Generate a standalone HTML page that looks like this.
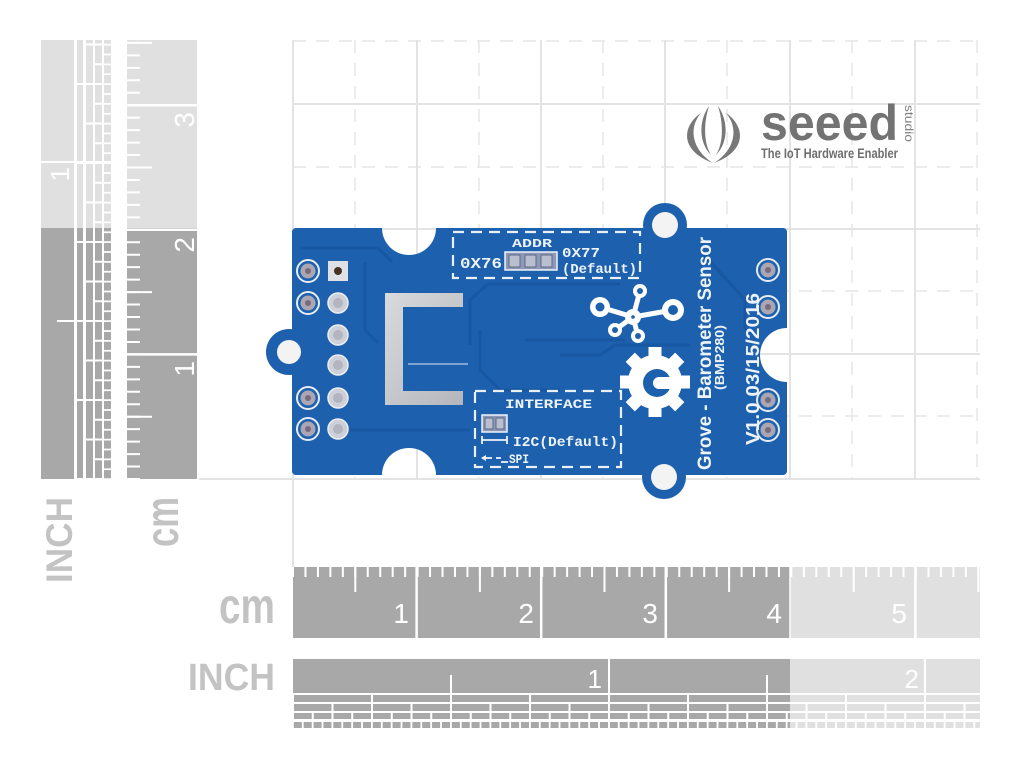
<!DOCTYPE html>
<html><head><meta charset="utf-8">
<style>html,body{margin:0;padding:0;background:#fff;}svg{display:block}</style>
</head>
<body>
<svg width="1024" height="771" viewBox="0 0 1024 771" xmlns="http://www.w3.org/2000/svg">
<defs>
  <mask id="bm">
    <rect x="0" y="0" width="1024" height="771" fill="#fff"/>
    <circle cx="409" cy="228" r="27" fill="#000"/>
    <circle cx="409" cy="475" r="27" fill="#000"/>
    <circle cx="787" cy="355" r="27" fill="#000"/>
  </mask>
  <linearGradient id="silver" x1="0" y1="0" x2="1" y2="1">
    <stop offset="0" stop-color="#d9dadd"/>
    <stop offset="1" stop-color="#b3b6bc"/>
  </linearGradient>
</defs>

<!-- ===== GRID ===== -->
<g stroke="#e3e3e3" stroke-width="2" fill="none">
  <line x1="293" y1="40" x2="293" y2="567"/>
  <line x1="417" y1="40" x2="417" y2="479"/>
  <line x1="541" y1="40" x2="541" y2="479"/>
  <line x1="665" y1="40" x2="665" y2="479"/>
  <line x1="790" y1="40" x2="790" y2="479"/>
  <line x1="915" y1="40" x2="915" y2="479"/>
  <line x1="293" y1="104" x2="980" y2="104"/>
  <line x1="293" y1="229" x2="980" y2="229"/>
  <line x1="293" y1="354" x2="980" y2="354"/>
  <line x1="199" y1="479" x2="980" y2="479"/>
</g>
<g stroke="#e6e6e6" stroke-width="1.5" stroke-dasharray="13 10" fill="none">
  <line x1="355" y1="40" x2="355" y2="479"/>
  <line x1="479" y1="40" x2="479" y2="479"/>
  <line x1="603" y1="40" x2="603" y2="479"/>
  <line x1="727" y1="40" x2="727" y2="479"/>
  <line x1="852" y1="40" x2="852" y2="479"/>
  <line x1="977" y1="40" x2="977" y2="479"/>
  <line x1="293" y1="41" x2="980" y2="41"/>
  <line x1="293" y1="167" x2="980" y2="167"/>
  <line x1="293" y1="291" x2="980" y2="291"/>
  <line x1="293" y1="416" x2="980" y2="416"/>
</g>

<!-- ===== VERTICAL INCH RULER ===== -->
<g>
  <rect x="41" y="40" width="33" height="188" fill="#e0e0e0"/>
  <rect x="41" y="228" width="33" height="251" fill="#a8a8a8"/>
  <rect x="77" y="40" width="6" height="188" fill="#e0e0e0"/>
  <rect x="77" y="228" width="6" height="251" fill="#a8a8a8"/>
  <rect x="86" y="40" width="7" height="188" fill="#e0e0e0"/>
  <rect x="86" y="228" width="7" height="251" fill="#a8a8a8"/>
  <rect x="95" y="40" width="7" height="188" fill="#e0e0e0"/>
  <rect x="95" y="228" width="7" height="251" fill="#a8a8a8"/>
  <rect x="104" y="40" width="7" height="188" fill="#e0e0e0"/>
  <rect x="104" y="228" width="7" height="251" fill="#a8a8a8"/>
  <g stroke="#fff" fill="none">
    <line x1="80" y1="480" x2="80" y2="40" stroke-width="7" stroke-dasharray="2 77"/>
    <line x1="89.5" y1="480" x2="89.5" y2="40" stroke-width="8" stroke-dasharray="2 37.5"/>
    <line x1="98.5" y1="480" x2="98.5" y2="40" stroke-width="8" stroke-dasharray="2 17.75"/>
    <line x1="107.5" y1="480" x2="107.5" y2="40" stroke-width="8" stroke-dasharray="1.8 8.075"/>
    <line x1="41" y1="162" x2="112" y2="162" stroke-width="2"/>
    <line x1="57" y1="321" x2="75" y2="321" stroke-width="2"/>
  </g>
  <text transform="translate(69,167) rotate(-90)" text-anchor="end" font-family="Liberation Sans, sans-serif" font-size="26" fill="#fff">1</text>
</g>

<!-- ===== VERTICAL CM RULER ===== -->
<g>
  <rect x="127" y="40" width="70" height="188" fill="#e0e0e0"/>
  <rect x="127" y="228" width="70" height="251" fill="#a8a8a8"/>
  <g stroke="#fff" fill="none">
    <line x1="133.5" y1="480" x2="133.5" y2="40" stroke-width="13" stroke-dasharray="2 10.46"/>
    <line x1="127" y1="416.7" x2="152" y2="416.7" stroke-width="2"/>
    <line x1="127" y1="292.1" x2="152" y2="292.1" stroke-width="2"/>
    <line x1="127" y1="167.5" x2="152" y2="167.5" stroke-width="2"/>
    <line x1="127" y1="42.9" x2="152" y2="42.9" stroke-width="2"/>
    <line x1="127" y1="354.4" x2="197" y2="354.4" stroke-width="2.5"/>
    <line x1="127" y1="229.8" x2="197" y2="229.8" stroke-width="2.5"/>
    <line x1="127" y1="105.2" x2="197" y2="105.2" stroke-width="2.5"/>
  </g>
  <g font-family="Liberation Sans, sans-serif" font-size="28" fill="#fff" text-anchor="end">
    <text transform="translate(194,361) rotate(-90)">1</text>
    <text transform="translate(194,237) rotate(-90)">2</text>
    <text transform="translate(194,112) rotate(-90)">3</text>
  </g>
</g>

<!-- left labels -->
<g font-family="Liberation Sans, sans-serif" font-weight="bold" fill="#c3c3c3">
  <text transform="translate(72,583) rotate(-90)" font-size="37" textLength="86" lengthAdjust="spacingAndGlyphs">INCH</text>
  <text transform="translate(178,547) rotate(-90)" font-size="46" textLength="50" lengthAdjust="spacingAndGlyphs">cm</text>
  <text x="219" y="623" font-size="50" textLength="56" lengthAdjust="spacingAndGlyphs">cm</text>
  <text x="188" y="690" font-size="38" textLength="87" lengthAdjust="spacingAndGlyphs">INCH</text>
</g>

<!-- ===== HORIZONTAL CM RULER ===== -->
<g>
  <rect x="293" y="567" width="497" height="71" fill="#a8a8a8"/>
  <rect x="790" y="567" width="190" height="71" fill="#e0e0e0"/>
  <g stroke="#fff" fill="none">
    <line x1="292" y1="572" x2="981" y2="572" stroke-width="10" stroke-dasharray="2 10.46"/>
    <line x1="355.3" y1="567" x2="355.3" y2="592" stroke-width="2"/>
    <line x1="479.9" y1="567" x2="479.9" y2="592" stroke-width="2"/>
    <line x1="604.5" y1="567" x2="604.5" y2="592" stroke-width="2"/>
    <line x1="729.1" y1="567" x2="729.1" y2="592" stroke-width="2"/>
    <line x1="853.7" y1="567" x2="853.7" y2="592" stroke-width="2"/>
    <line x1="978.3" y1="567" x2="978.3" y2="592" stroke-width="2"/>
    <line x1="416.6" y1="567" x2="416.6" y2="638" stroke-width="2.5"/>
    <line x1="541.2" y1="567" x2="541.2" y2="638" stroke-width="2.5"/>
    <line x1="665.8" y1="567" x2="665.8" y2="638" stroke-width="2.5"/>
    <line x1="790" y1="567" x2="790" y2="638" stroke-width="1.5"/>
    <line x1="915.4" y1="567" x2="915.4" y2="638" stroke-width="2.5"/>
  </g>
  <g font-family="Liberation Sans, sans-serif" font-size="28" fill="#fff" text-anchor="end">
    <text x="409" y="623">1</text>
    <text x="534" y="623">2</text>
    <text x="658" y="623">3</text>
    <text x="782" y="623">4</text>
    <text x="907" y="623">5</text>
  </g>
</g>

<!-- ===== HORIZONTAL INCH RULER ===== -->
<g>
  <rect x="293" y="659" width="497" height="34" fill="#a8a8a8"/>
  <rect x="790" y="659" width="190" height="34" fill="#e0e0e0"/>
  <rect x="293" y="695" width="497" height="7" fill="#a8a8a8"/>
  <rect x="790" y="695" width="190" height="7" fill="#e0e0e0"/>
  <rect x="293" y="704" width="497" height="7" fill="#a8a8a8"/>
  <rect x="790" y="704" width="190" height="7" fill="#e0e0e0"/>
  <rect x="293" y="713" width="497" height="6" fill="#a8a8a8"/>
  <rect x="790" y="713" width="190" height="6" fill="#e0e0e0"/>
  <rect x="293" y="722" width="497" height="6" fill="#a8a8a8"/>
  <rect x="790" y="722" width="190" height="6" fill="#e0e0e0"/>
  <g stroke="#fff" fill="none">
    <line x1="292" y1="698.5" x2="981" y2="698.5" stroke-width="8" stroke-dasharray="2 77"/>
    <line x1="292" y1="707.5" x2="981" y2="707.5" stroke-width="8" stroke-dasharray="2 37.5"/>
    <line x1="292" y1="716" x2="981" y2="716" stroke-width="7" stroke-dasharray="2 17.75"/>
    <line x1="292" y1="725" x2="981" y2="725" stroke-width="7" stroke-dasharray="1.8 8.075"/>
    <line x1="609" y1="659" x2="609" y2="728" stroke-width="2"/>
    <line x1="925" y1="659" x2="925" y2="728" stroke-width="2"/>
    <line x1="451" y1="675" x2="451" y2="694" stroke-width="2"/>
    <line x1="767" y1="675" x2="767" y2="694" stroke-width="2"/>
  </g>
  <g font-family="Liberation Sans, sans-serif" font-size="26" fill="#fff" text-anchor="end">
    <text x="602" y="688">1</text>
    <text x="919" y="688">2</text>
  </g>
</g>

<!-- ===== SEEED LOGO ===== -->
<g fill="#787878">
  <path d="M701,113 C683,125 678,150 713,163 C692,150 688,128 701,113 Z"/>
  <path d="M709,106 C699,120 698,142 711,155 C703,142 704,122 709,106 Z"/>
  <g transform="translate(1427,0) scale(-1,1)">
    <path d="M701,113 C683,125 678,150 713,163 C692,150 688,128 701,113 Z"/>
    <path d="M709,106 C699,120 698,142 711,155 C703,142 704,122 709,106 Z"/>
  </g>
  <text x="761" y="140" font-family="Liberation Sans, sans-serif" font-weight="bold" font-size="50" textLength="137" lengthAdjust="spacingAndGlyphs" fill="#737373">seeed</text>
  <text transform="translate(905,105) rotate(90)" font-family="Liberation Sans, sans-serif" font-size="12" textLength="37" lengthAdjust="spacingAndGlyphs" fill="#808080">studio</text>
  <text x="761" y="158" font-family="Liberation Sans, sans-serif" font-weight="bold" font-size="14" textLength="137" lengthAdjust="spacingAndGlyphs" fill="#6e6e6e">The IoT Hardware Enabler</text>
</g>

<!-- ===== PCB ===== -->
<g mask="url(#bm)" fill="#1c60ae">
  <rect x="292" y="228" width="495" height="247" rx="4"/>
  <circle cx="289" cy="352" r="23"/>
  <circle cx="665" cy="225" r="22"/>
  <circle cx="664" cy="477" r="22"/>
</g>
<!-- holes -->
<circle cx="289" cy="352" r="12" fill="#f3f3f3"/>
<circle cx="665" cy="225" r="13" fill="#f3f3f3"/>
<circle cx="664" cy="477" r="13" fill="#f3f3f3"/>

<!-- traces -->
<g stroke="#18559f" stroke-width="3" fill="none" opacity="0.8">
  <path d="M300,248 H378 L392,262"/>
  <path d="M365,262 V330 L378,343"/>
  <path d="M470,345 V300 L488,284 H620"/>
  <path d="M480,330 V370 L500,390 H560"/>
  <path d="M525,340 H625"/>
  <path d="M560,355 H600 L615,345 H690"/>
  <path d="M350,430 H470"/>
  <path d="M700,250 L745,300 V330"/>
</g>

<!-- silver C bracket -->
<path d="M385,293 H463 V307 H403 V391 H463 V405 H385 Z" fill="url(#silver)"/>
<line x1="408" y1="364" x2="468" y2="364" stroke="#7fa3d2" stroke-width="2"/>

<!-- left pins col1 -->
<g>
  <g stroke="#e6ecf4" stroke-width="2" fill="#1c60ae">
    <circle cx="308" cy="271" r="11"/>
    <circle cx="308" cy="303" r="11"/>
    <circle cx="308" cy="398" r="11"/>
    <circle cx="308" cy="429" r="11"/>
    <circle cx="768" cy="270" r="11"/>
    <circle cx="768" cy="307" r="11"/>
    <circle cx="768" cy="400" r="11"/>
    <circle cx="768" cy="430" r="11"/>
  </g>
  <g fill="#aaa6b4">
    <circle cx="308" cy="271" r="7.5"/>
    <circle cx="308" cy="303" r="7.5"/>
    <circle cx="308" cy="398" r="7.5"/>
    <circle cx="308" cy="429" r="7.5"/>
    <circle cx="768" cy="270" r="7.5"/>
    <circle cx="768" cy="307" r="7.5"/>
    <circle cx="768" cy="400" r="7.5"/>
    <circle cx="768" cy="430" r="7.5"/>
  </g>
  <g fill="#786c7c">
    <circle cx="308" cy="271" r="3"/>
    <circle cx="308" cy="303" r="3"/>
    <circle cx="308" cy="398" r="3"/>
    <circle cx="308" cy="429" r="3"/>
    <circle cx="768" cy="270" r="3"/>
    <circle cx="768" cy="307" r="3"/>
    <circle cx="768" cy="400" r="3"/>
    <circle cx="768" cy="430" r="3"/>
  </g>
</g>
<!-- left pins col2 -->
<rect x="328" y="261" width="20" height="20" fill="#e0e1e6"/>
<circle cx="338" cy="271" r="4" fill="#4a3222"/>
<g fill="#cdd0d8" stroke="#eceef2" stroke-width="1.5">
  <circle cx="338" cy="303" r="10"/>
  <circle cx="338" cy="335" r="10"/>
  <circle cx="338" cy="365" r="10"/>
  <circle cx="338" cy="398" r="10"/>
  <circle cx="338" cy="429" r="10"/>
</g>
<g fill="#b2b5c0">
  <circle cx="338" cy="303" r="5"/>
  <circle cx="338" cy="335" r="5"/>
  <circle cx="338" cy="365" r="5"/>
  <circle cx="338" cy="398" r="5"/>
  <circle cx="338" cy="429" r="5"/>
</g>

<!-- ADDR box -->
<rect x="453" y="232" width="187" height="46" fill="none" stroke="#eaf0f8" stroke-width="2.2" stroke-dasharray="11 7"/>
<rect x="505" y="252" width="52" height="18" fill="#8d99b6" stroke="#eef2f8" stroke-width="1.5"/>
<g fill="#b9bfcf" stroke="#5a6a8a" stroke-width="1">
  <rect x="509" y="255" width="11" height="12"/>
  <rect x="525" y="255" width="11" height="12"/>
  <rect x="541" y="255" width="11" height="12"/>
</g>
<g font-family="Liberation Mono, monospace" font-weight="bold" fill="#eef3fa">
  <text x="512" y="247" font-size="12" textLength="40" lengthAdjust="spacingAndGlyphs">ADDR</text>
  <text x="460" y="268" font-size="15" textLength="42" lengthAdjust="spacingAndGlyphs">0X76</text>
  <text x="562" y="257" font-size="14" textLength="38" lengthAdjust="spacingAndGlyphs">0X77</text>
  <text x="562" y="273" font-size="14" textLength="75" lengthAdjust="spacingAndGlyphs">(Default)</text>
</g>

<!-- INTERFACE box -->
<rect x="475" y="391" width="146" height="76" fill="none" stroke="#eaf0f8" stroke-width="2.2" stroke-dasharray="11 7"/>
<rect x="482" y="415" width="25" height="17" fill="#8d99b6" stroke="#eef2f8" stroke-width="1.5"/>
<g fill="#b9bfcf" stroke="#5a6a8a" stroke-width="1">
  <rect x="485" y="418" width="8" height="11"/>
  <rect x="496" y="418" width="8" height="11"/>
</g>
<g stroke="#eef3fa" stroke-width="1.8" fill="none">
  <line x1="482" y1="440" x2="507" y2="440"/>
  <line x1="482" y1="436" x2="482" y2="444"/>
  <line x1="507" y1="436" x2="507" y2="444"/>
  <line x1="482" y1="458" x2="492" y2="458"/>
  <line x1="496" y1="458" x2="501" y2="458"/>
  <line x1="501" y1="462" x2="508" y2="462"/>
</g>
<path d="M481,458 L486,455 L486,461 Z" fill="#eef3fa"/>
<g font-family="Liberation Mono, monospace" font-weight="bold" fill="#eef3fa">
  <text x="505" y="408" font-size="13" textLength="87" lengthAdjust="spacingAndGlyphs">INTERFACE</text>
  <text x="513" y="446" font-size="14" textLength="105" lengthAdjust="spacingAndGlyphs">I2C(Default)</text>
  <text x="509" y="463" font-size="13" textLength="20" lengthAdjust="spacingAndGlyphs">SPI</text>
</g>

<!-- node icon -->
<g stroke="#ffffff" stroke-width="5" fill="none">
  <line x1="633" y1="317" x2="600" y2="307"/>
  <line x1="633" y1="317" x2="640" y2="291"/>
  <line x1="633" y1="317" x2="673" y2="310"/>
  <line x1="633" y1="317" x2="615" y2="330"/>
  <line x1="633" y1="317" x2="638" y2="336"/>
</g>
<g fill="#ffffff">
  <circle cx="600" cy="307" r="10"/>
  <circle cx="673" cy="310" r="11"/>
  <circle cx="640" cy="291" r="7"/>
  <circle cx="615" cy="330" r="7"/>
  <circle cx="638" cy="336" r="7"/>
  <circle cx="633" cy="317" r="8"/>
</g>
<g fill="#1c60ae">
  <circle cx="600" cy="307" r="4.5"/>
  <circle cx="673" cy="310" r="5"/>
  <circle cx="640" cy="291" r="3"/>
  <circle cx="615" cy="330" r="3"/>
  <circle cx="638" cy="336" r="3"/>
  <circle cx="633" cy="317" r="1.8"/>
</g>

<!-- gear -->
<g transform="translate(655,382)" fill="#ffffff">
  <circle r="27"/>
  <rect x="-6.5" y="-35" width="13" height="14"/>
  <rect x="-6.5" y="-35" width="13" height="14" transform="rotate(45)"/>
  <rect x="-6.5" y="-35" width="13" height="14" transform="rotate(90)"/>
  <rect x="-6.5" y="-35" width="13" height="14" transform="rotate(135)"/>
  <rect x="-6.5" y="-35" width="13" height="14" transform="rotate(180)"/>
  <rect x="-6.5" y="-35" width="13" height="14" transform="rotate(225)"/>
  <rect x="-6.5" y="-35" width="13" height="14" transform="rotate(270)"/>
  <rect x="-6.5" y="-35" width="13" height="14" transform="rotate(315)"/>
  <circle cx="2" cy="1" r="14" fill="#1c60ae"/>
  <circle cx="4" cy="1" r="6"/>
  <rect x="4" y="-5" width="14" height="12"/>
</g>

<!-- vertical board text -->
<g font-family="Liberation Sans, sans-serif" font-weight="bold" fill="#eef3fa">
  <text transform="translate(711,470) rotate(-90)" font-size="19" textLength="233" lengthAdjust="spacingAndGlyphs">Grove - Barometer Sensor</text>
  <text transform="translate(724,390) rotate(-90)" font-size="13" textLength="65" lengthAdjust="spacingAndGlyphs">(BMP280)</text>
  <text transform="translate(759,445) rotate(-90)" font-size="18" textLength="152" lengthAdjust="spacingAndGlyphs">V1.0 03/15/2016</text>
</g>
</svg>
</body></html>
